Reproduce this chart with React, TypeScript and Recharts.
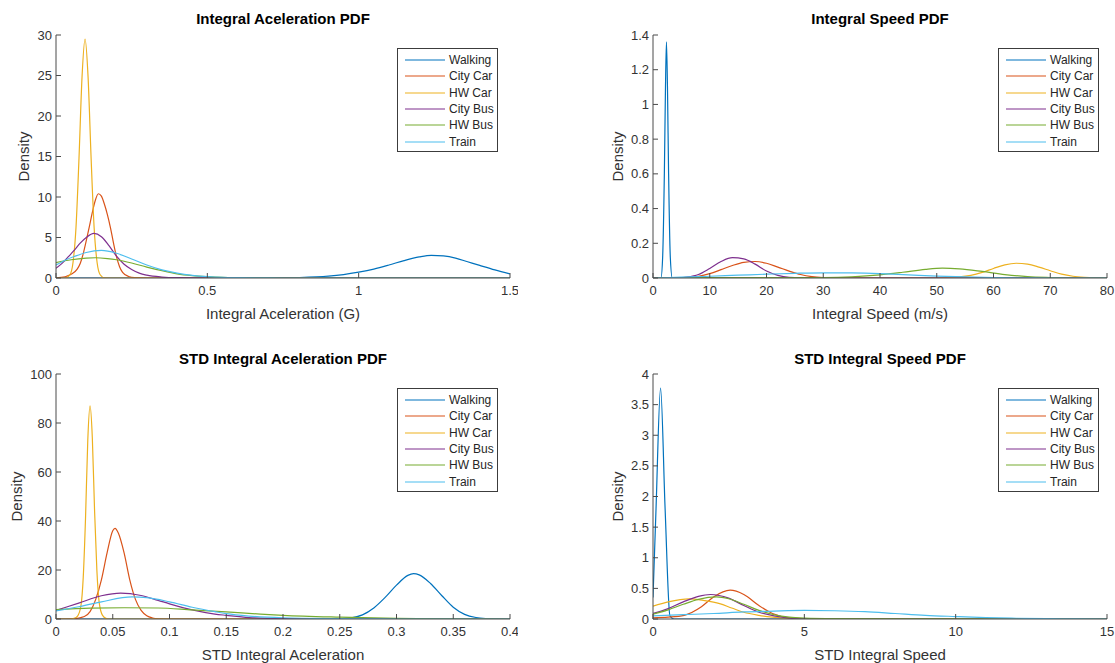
import { LineChart, Line, XAxis, YAxis, Legend } from 'recharts'

type Pair = [number, number]

const SERIES_NAMES = ['Walking', 'City Car', 'HW Car', 'City Bus', 'HW Bus', 'Train']
const SERIES_COLORS = ['#0072BD', '#D95319', '#EDB120', '#7E2F8E', '#77AC30', '#4DBEEE']

// Integral acceleration (G)
const accWalking: Pair[] = [[0, 0], [0.05, 0], [0.7, 0], [0.8, 0.05], [0.9, 0.22], [0.95, 0.42], [1.0, 0.72], [1.05, 1.1], [1.1, 1.6], [1.15, 2.15], [1.2, 2.6], [1.24, 2.8], [1.28, 2.72], [1.32, 2.45], [1.36, 2.0], [1.4, 1.55], [1.45, 1.0], [1.5, 0.5]]
const accCityCar: Pair[] = [[0, 0.02], [0.03, 0.15], [0.05, 0.45], [0.07, 1.1], [0.08, 1.8], [0.09, 3.0], [0.1, 4.6], [0.11, 6.3], [0.12, 8.1], [0.13, 9.6], [0.14, 10.4], [0.15, 10.1], [0.16, 9.1], [0.17, 7.8], [0.18, 6.2], [0.19, 4.3], [0.2, 2.6], [0.21, 1.4], [0.22, 0.7], [0.24, 0.18], [0.26, 0.04], [0.3, 0], [1.5, 0]]
const accHwCar: Pair[] = [[0, 0], [0.03, 0], [0.046, 0.4], [0.056, 1.85], [0.066, 6.2], [0.076, 14.8], [0.086, 24.8], [0.096, 29.5], [0.106, 24.8], [0.116, 14.8], [0.126, 6.2], [0.136, 1.85], [0.146, 0.4], [0.16, 0.03], [0.2, 0], [1.5, 0]]
const accCityBus: Pair[] = [[0, 1.2], [0.02, 1.8], [0.04, 2.6], [0.06, 3.4], [0.08, 4.3], [0.1, 5.0], [0.125, 5.5], [0.15, 5.1], [0.175, 4.0], [0.2, 2.7], [0.225, 1.7], [0.25, 1.05], [0.275, 0.6], [0.3, 0.35], [0.35, 0.12], [0.4, 0.04], [0.5, 0.01], [0.6, 0], [1.5, 0]]
const accHwBus: Pair[] = [[0, 1.9], [0.05, 2.25], [0.1, 2.45], [0.13, 2.5], [0.17, 2.4], [0.2, 2.25], [0.25, 1.85], [0.3, 1.35], [0.35, 0.9], [0.4, 0.52], [0.45, 0.3], [0.5, 0.17], [0.55, 0.08], [0.6, 0.04], [0.7, 0.01], [0.8, 0], [1.5, 0]]
const accTrain: Pair[] = [[0, 1.6], [0.03, 2.2], [0.06, 2.65], [0.1, 3.15], [0.15, 3.4], [0.2, 3.05], [0.25, 2.35], [0.3, 1.6], [0.35, 1.0], [0.4, 0.6], [0.45, 0.33], [0.5, 0.17], [0.55, 0.08], [0.6, 0.04], [0.7, 0.01], [0.8, 0], [1.5, 0]]

// Integral speed (m/s)
const spdWalking: Pair[] = [[0, 0], [1.4, 0], [1.7, 0.12], [2.0, 0.6], [2.2, 1.1], [2.37, 1.36], [2.55, 1.1], [2.75, 0.6], [3.05, 0.12], [3.4, 0], [80, 0]]
const spdCityCar: Pair[] = [[0, 0], [5, 0.002], [8, 0.01], [10, 0.025], [12, 0.048], [14, 0.072], [16, 0.09], [18, 0.095], [20, 0.085], [22, 0.063], [24, 0.04], [26, 0.02], [28, 0.008], [30, 0.003], [34, 0], [80, 0]]
const spdHwCar: Pair[] = [[0, 0], [50, 0], [54, 0.006], [56, 0.015], [58, 0.032], [60, 0.055], [62, 0.076], [64, 0.085], [66, 0.08], [68, 0.063], [70, 0.042], [72, 0.022], [74, 0.01], [76, 0.004], [78, 0.001], [80, 0]]
const spdCityBus: Pair[] = [[0, 0], [4, 0], [6, 0.005], [8, 0.02], [10, 0.055], [12, 0.095], [14, 0.117], [16, 0.11], [18, 0.08], [20, 0.04], [22, 0.015], [24, 0.004], [28, 0], [80, 0]]
const spdHwBus: Pair[] = [[0, 0], [10, 0.002], [20, 0.002], [30, 0.003], [35, 0.007], [40, 0.018], [44, 0.033], [48, 0.05], [51, 0.057], [54, 0.053], [58, 0.038], [62, 0.02], [66, 0.008], [70, 0.003], [75, 0], [80, 0]]
const spdTrain: Pair[] = [[0, 0], [3, 0.002], [10, 0.01], [15, 0.016], [20, 0.022], [25, 0.027], [30, 0.03], [35, 0.029], [40, 0.025], [45, 0.018], [50, 0.011], [55, 0.006], [60, 0.003], [65, 0.001], [70, 0], [80, 0]]

// STD of integral acceleration
const stdAccWalking: Pair[] = [[0, 0], [0.24, 0], [0.26, 0.5], [0.27, 1.7], [0.28, 4.5], [0.29, 8.8], [0.3, 13.8], [0.31, 17.8], [0.315, 18.5], [0.32, 18], [0.33, 14.5], [0.34, 9.5], [0.35, 4.8], [0.36, 1.9], [0.37, 0.6], [0.38, 0.15], [0.39, 0], [0.4, 0]]
const stdAccCityCar: Pair[] = [[0, 0], [0.015, 0.1], [0.025, 1], [0.03, 3], [0.035, 8], [0.04, 16], [0.045, 27], [0.05, 36], [0.052, 37], [0.055, 35], [0.06, 27], [0.065, 16], [0.07, 8], [0.075, 3.5], [0.08, 1.3], [0.085, 0.4], [0.09, 0.1], [0.1, 0], [0.4, 0]]
const stdAccHwCar: Pair[] = [[0, 0], [0.012, 0], [0.016, 0.3], [0.019, 1.2], [0.022, 5.5], [0.024, 17], [0.026, 41], [0.028, 73], [0.03, 87], [0.032, 74], [0.034, 44], [0.036, 20], [0.038, 7], [0.041, 1.5], [0.045, 0.1], [0.05, 0], [0.4, 0]]
const stdAccCityBus: Pair[] = [[0, 3.5], [0.02, 6.5], [0.04, 9.5], [0.057, 10.6], [0.075, 9.6], [0.09, 7.6], [0.1, 6.2], [0.12, 3.7], [0.14, 2.0], [0.15, 1.5], [0.17, 0.6], [0.2, 0.12], [0.25, 0], [0.4, 0]]
const stdAccHwBus: Pair[] = [[0, 3.8], [0.03, 4.4], [0.06, 4.6], [0.09, 4.5], [0.12, 3.7], [0.15, 2.9], [0.18, 2.0], [0.2, 1.5], [0.25, 0.75], [0.3, 0.25], [0.35, 0.05], [0.4, 0]]
const stdAccTrain: Pair[] = [[0, 3.3], [0.02, 5], [0.04, 7], [0.067, 9], [0.08, 8.7], [0.1, 7], [0.12, 4.8], [0.14, 3.0], [0.15, 2.2], [0.17, 1.2], [0.2, 0.5], [0.25, 0.15], [0.3, 0], [0.4, 0]]

// STD of integral speed
const stdSpdWalking: Pair[] = [[0, 0.35], [0.1, 1.8], [0.25, 3.77], [0.4, 1.8], [0.56, 0.05], [0.7, 0], [15, 0]]
const stdSpdCityCar: Pair[] = [[0, 0.02], [0.5, 0.03], [1.03, 0.06], [1.6, 0.2], [2.0, 0.36], [2.55, 0.47], [3.0, 0.4], [3.5, 0.22], [3.95, 0.09], [4.5, 0.02], [5, 0.005], [6, 0], [15, 0]]
const stdSpdHwCar: Pair[] = [[0, 0.21], [0.5, 0.28], [1.2, 0.33], [1.7, 0.3], [2.2, 0.25], [2.6, 0.18], [3.0, 0.11], [3.5, 0.06], [3.95, 0.03], [4.5, 0.01], [5.5, 0], [15, 0]]
const stdSpdCityBus: Pair[] = [[0, 0.09], [0.5, 0.17], [1.0, 0.28], [1.5, 0.37], [1.9, 0.4], [2.5, 0.34], [3.0, 0.22], [3.5, 0.11], [4.0, 0.05], [4.5, 0.015], [5, 0.005], [6, 0], [15, 0]]
const stdSpdHwBus: Pair[] = [[0, 0.08], [0.5, 0.15], [1.0, 0.24], [1.5, 0.32], [2.1, 0.36], [2.5, 0.33], [3.0, 0.24], [3.5, 0.14], [4.0, 0.07], [4.5, 0.03], [5, 0.015], [6, 0.006], [8, 0.002], [15, 0]]
const stdSpdTrain: Pair[] = [[0, 0.05], [1, 0.07], [2, 0.09], [3, 0.115], [4, 0.13], [5, 0.14], [6, 0.135], [7, 0.12], [8, 0.09], [9, 0.06], [10, 0.04], [11, 0.022], [12, 0.012], [13, 0.005], [14, 0.002], [15, 0]]

const FONT = 'Arial, "Liberation Sans", Helvetica, sans-serif'
const AXIS_COLOR = '#4a4a4a'
const TEXT_COLOR = '#333333'
const PLOT_TOP = 35
const X_AXIS_HEIGHT = 48
const CHART_WIDTH = 518

const toPoints = (pairs: Pair[]) => pairs.map(([x, y]) => ({ x, y }))

interface PanelProps {
  left: number
  top: number
  plotHeight: number
  title: string
  titleY: number
  xLabel: string
  xDomain: [number, number]
  xTicks: number[]
  yDomain: [number, number]
  yTicks: number[]
  densityX: number
  legendLeft: number
  legendTop: number
  series: Pair[][]
}

function LegendBox(props: any) {
  const items = [...(props.payload || [])].sort(
    (a: any, b: any) => SERIES_NAMES.indexOf(a.value) - SERIES_NAMES.indexOf(b.value),
  )
  return (
    <div
      style={{
        width: 101,
        height: 104,
        boxSizing: 'border-box',
        border: '1px solid #3c3c3c',
        background: '#fff',
        paddingTop: 3,
        fontFamily: FONT,
        fontSize: 12,
        color: '#262626',
      }}
    >
      {items.map((item: any) => (
        <div key={item.value} style={{ display: 'flex', alignItems: 'center', height: 16.33 }}>
          <svg width={51} height={16}>
            <line x1={7} x2={47} y1={8} y2={8} stroke={item.color} strokeWidth={1.2} />
          </svg>
          <span style={{ lineHeight: '16px', whiteSpace: 'nowrap' }}>{item.value}</span>
        </div>
      ))}
    </div>
  )
}

function Panel(p: PanelProps) {
  const height = PLOT_TOP + p.plotHeight + X_AXIS_HEIGHT

  const renderXLabel = (props: any) => {
    const vb = props.viewBox
    return (
      <text
        x={vb.x + vb.width / 2}
        y={vb.y + 35}
        textAnchor="middle"
        dominantBaseline="central"
        fontSize={15}
        fill={TEXT_COLOR}
        fontFamily={FONT}
      >
        {p.xLabel}
      </text>
    )
  }

  const renderYLabel = (props: any) => {
    const vb = props.viewBox
    const cy = vb.y + vb.height / 2
    return (
      <text
        x={p.densityX}
        y={cy}
        transform={`rotate(-90, ${p.densityX}, ${cy})`}
        textAnchor="middle"
        dominantBaseline="central"
        fontSize={15}
        fill={TEXT_COLOR}
        fontFamily={FONT}
      >
        Density
      </text>
    )
  }

  return (
    <div style={{ position: 'absolute', left: p.left, top: p.top, width: CHART_WIDTH, height, fontFamily: FONT }}>
      <div
        style={{
          position: 'absolute',
          left: 56,
          width: 454,
          top: p.titleY - 10,
          lineHeight: '20px',
          textAlign: 'center',
          fontWeight: 'bold',
          fontSize: 15,
          color: '#000',
          zIndex: 1,
        }}
      >
        {p.title}
      </div>
      <LineChart width={CHART_WIDTH} height={height} margin={{ top: PLOT_TOP, right: 8, bottom: 0, left: 0 }}>
        <XAxis
          type="number"
          dataKey="x"
          domain={p.xDomain}
          ticks={p.xTicks}
          interval={0}
          allowDataOverflow
          height={X_AXIS_HEIGHT}
          tickSize={-5}
          tickMargin={13}
          stroke={AXIS_COLOR}
          tick={{ fill: TEXT_COLOR, fontSize: 13, fontFamily: FONT }}
          label={renderXLabel}
        />
        <YAxis
          type="number"
          domain={p.yDomain}
          ticks={p.yTicks}
          interval={0}
          allowDataOverflow
          width={56}
          tickSize={-5}
          tickMargin={9}
          stroke={AXIS_COLOR}
          tick={{ fill: TEXT_COLOR, fontSize: 13, fontFamily: FONT }}
          label={renderYLabel}
        />
        <Legend
          layout="vertical"
          align="center"
          verticalAlign="middle"
          wrapperStyle={{ left: p.legendLeft, top: p.legendTop, width: 101, height: 104 }}
          content={LegendBox}
        />
        {p.series.map((s, i) => (
          <Line
            key={SERIES_NAMES[i]}
            data={toPoints(s)}
            dataKey="y"
            name={SERIES_NAMES[i]}
            type="monotone"
            stroke={SERIES_COLORS[i]}
            strokeWidth={1.2}
            dot={false}
            activeDot={false}
            isAnimationActive={false}
          />
        ))}
      </LineChart>
    </div>
  )
}

export default function App() {
  return (
    <div
      style={{
        position: 'absolute',
        left: 0,
        top: 0,
        width: 1115,
        height: 663,
        overflow: 'hidden',
        background: '#fff',
      }}
    >
      <Panel
        left={0}
        top={0}
        plotHeight={243}
        title="Integral Aceleration PDF"
        titleY={19}
        xLabel="Integral Aceleration (G)"
        xDomain={[0, 1.5]}
        xTicks={[0, 0.5, 1, 1.5]}
        yDomain={[0, 30]}
        yTicks={[0, 5, 10, 15, 20, 25, 30]}
        densityX={23}
        legendLeft={397}
        legendTop={48}
        series={[accWalking, accCityCar, accHwCar, accCityBus, accHwBus, accTrain]}
      />
      <Panel
        left={597}
        top={0}
        plotHeight={243}
        title="Integral Speed PDF"
        titleY={19}
        xLabel="Integral Speed (m/s)"
        xDomain={[0, 80]}
        xTicks={[0, 10, 20, 30, 40, 50, 60, 70, 80]}
        yDomain={[0, 1.4]}
        yTicks={[0, 0.2, 0.4, 0.6, 0.8, 1, 1.2, 1.4]}
        densityX={20}
        legendLeft={401}
        legendTop={48}
        series={[spdWalking, spdCityCar, spdHwCar, spdCityBus, spdHwBus, spdTrain]}
      />
      <Panel
        left={0}
        top={339}
        plotHeight={245}
        title="STD Integral Aceleration PDF"
        titleY={20}
        xLabel="STD Integral Aceleration"
        xDomain={[0, 0.4]}
        xTicks={[0, 0.05, 0.1, 0.15, 0.2, 0.25, 0.3, 0.35, 0.4]}
        yDomain={[0, 100]}
        yTicks={[0, 20, 40, 60, 80, 100]}
        densityX={16}
        legendLeft={397}
        legendTop={49}
        series={[stdAccWalking, stdAccCityCar, stdAccHwCar, stdAccCityBus, stdAccHwBus, stdAccTrain]}
      />
      <Panel
        left={597}
        top={339}
        plotHeight={245}
        title="STD Integral Speed PDF"
        titleY={20}
        xLabel="STD Integral Speed"
        xDomain={[0, 15]}
        xTicks={[0, 5, 10, 15]}
        yDomain={[0, 4]}
        yTicks={[0, 0.5, 1, 1.5, 2, 2.5, 3, 3.5, 4]}
        densityX={20}
        legendLeft={401}
        legendTop={49}
        series={[stdSpdWalking, stdSpdCityCar, stdSpdHwCar, stdSpdCityBus, stdSpdHwBus, stdSpdTrain]}
      />
    </div>
  )
}
